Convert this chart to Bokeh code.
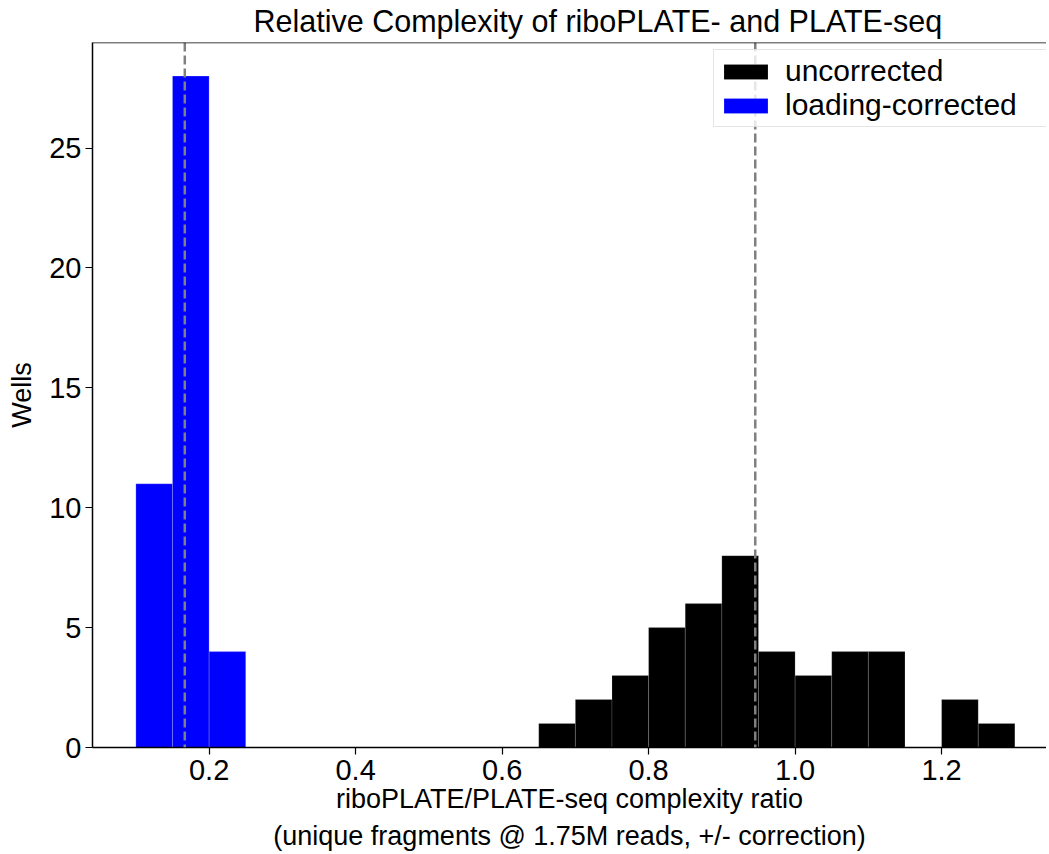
from bokeh.plotting import figure
from bokeh.models import Span, Legend, LegendItem, FixedTicker, Range1d, ColumnDataSource
from bokeh.embed import file_html
from bokeh.resources import INLINE

# ---- data ----
corrected_left = [0.10, 0.15, 0.20]
corrected_right = [0.15, 0.20, 0.25]
corrected_counts = [11, 28, 4]

uncorrected_left = [0.65, 0.70, 0.75, 0.80, 0.85, 0.90, 0.95, 1.00, 1.05, 1.10, 1.15, 1.20, 1.25]
uncorrected_right = [0.70, 0.75, 0.80, 0.85, 0.90, 0.95, 1.00, 1.05, 1.10, 1.15, 1.20, 1.25, 1.30]
uncorrected_counts = [1, 2, 3, 5, 6, 8, 4, 3, 4, 4, 0, 2, 1]

corrected_median = 0.1668
uncorrected_median = 0.9456

x_ticks = [0.2, 0.4, 0.6, 0.8, 1.0, 1.2]
x_tick_labels = ["0.2", "0.4", "0.6", "0.8", "1.0", "1.2"]
y_ticks = [0, 5, 10, 15, 20, 25]

series_labels = ["uncorrected", "loading-corrected"]
title_text = "Relative Complexity of riboPLATE- and PLATE-seq"
x_label = "riboPLATE/PLATE-seq complexity ratio\n(unique fragments @ 1.75M reads, +/- correction)"
y_label = "Wells"

X_START, X_END = 0.0408, 1.3432
Y_END = 29.4
FONT = "Liberation Sans"
FRAME_W, FRAME_H = 954, 705


def src(lefts, rights, counts):
    keep = [i for i, c in enumerate(counts) if c > 0]
    return ColumnDataSource(dict(
        left=[lefts[i] for i in keep],
        right=[rights[i] for i in keep],
        top=[counts[i] for i in keep],
        bottom=[0] * len(keep),
    ))


p = figure(frame_width=FRAME_W, frame_height=FRAME_H,
           x_range=Range1d(X_START, X_END), y_range=Range1d(0, Y_END),
           output_backend="svg", toolbar_location=None,
           min_border_left=92, min_border_right=0, min_border_top=41, min_border_bottom=0,
           title=title_text)

p.outline_line_color = None
p.xgrid.grid_line_color = None
p.ygrid.grid_line_color = None
p.background_fill_color = "white"
p.border_fill_color = "white"

p.title.text_font = FONT
p.title.text_font_size = "30.5px"
p.title.text_font_style = "normal"
p.title.text_line_height = 0.8
p.title.vertical_align = "top"
p.title.align = "left"
p.title.offset = 161
p.title.standoff = 6
p.title.text_color = "black"

r_unc = p.quad(source=src(uncorrected_left, uncorrected_right, uncorrected_counts),
               left="left", right="right", top="top", bottom="bottom",
               fill_color="black", line_color="white", line_alpha=0.15, line_width=1)
r_cor = p.quad(source=src(corrected_left, corrected_right, corrected_counts),
               left="left", right="right", top="top", bottom="bottom",
               fill_color="#0000ff", line_color="white", line_alpha=0.2, line_width=1)

for m in (corrected_median, uncorrected_median):
    p.add_layout(Span(location=m, dimension="height", line_color="#808080",
                      line_width=2.5, line_dash="9 4"))

# top spine
p.add_layout(Span(location=Y_END, dimension="width", line_color="black", line_width=1.5))

for ax in (p.xaxis[0], p.yaxis[0]):
    ax.axis_line_color = "black"
    ax.axis_line_width = 1.5
    ax.major_tick_line_color = "black"
    ax.major_tick_line_width = 1.2
    ax.major_tick_out = 7
    ax.major_tick_in = 0
    ax.minor_tick_line_color = None
    ax.major_label_text_font = FONT
    ax.major_label_text_font_size = "29px"
    ax.major_label_text_color = "black"
    ax.axis_label_text_font = FONT
    ax.axis_label_text_font_size = "27px"
    ax.axis_label_text_font_style = "normal"
    ax.axis_label_text_color = "black"

p.xaxis.ticker = FixedTicker(ticks=x_ticks)
p.xaxis.major_label_overrides = {t: l for t, l in zip(x_ticks, x_tick_labels)}
p.xaxis.axis_label = x_label
p.xaxis.major_label_standoff = 5
p.xaxis.axis_label_standoff = 1
p.xaxis.axis_label_text_line_height = 1.25

p.yaxis.ticker = FixedTicker(ticks=y_ticks)
p.yaxis.axis_label = y_label
p.yaxis.major_label_standoff = 4
p.yaxis.axis_label_standoff = 9

legend = Legend(items=[LegendItem(label=series_labels[0], renderers=[r_unc]),
                       LegendItem(label=series_labels[1], renderers=[r_cor])],
                location=(621, 620))
legend.label_text_font = FONT
legend.label_text_font_size = "30px"
legend.label_text_color = "black"
legend.glyph_width = 55
legend.glyph_height = 19
legend.label_height = 28
legend.label_width = 258
legend.label_standoff = 12
legend.spacing = -2
legend.padding = 4
legend.border_line_color = "#cccccc"
legend.border_line_width = 1.2
legend.background_fill_alpha = 0.8
p.add_layout(legend)

open("out.html", "w").write(file_html(p, INLINE))
